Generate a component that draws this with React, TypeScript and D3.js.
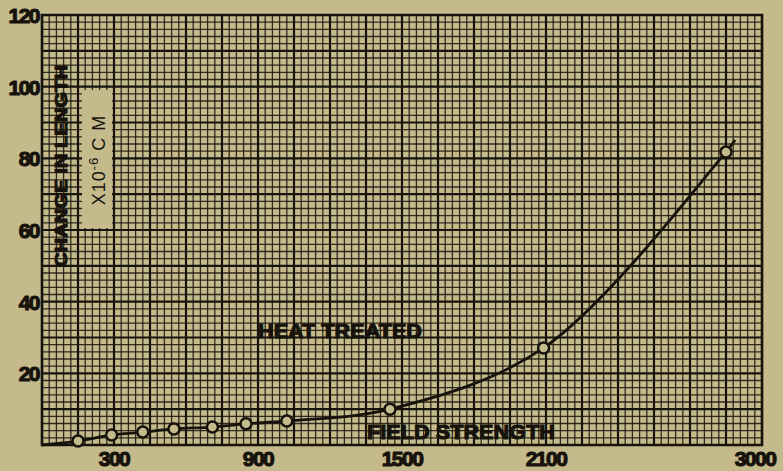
import React from 'react';
import * as d3 from 'd3';

// readings taken off the plate
const fieldStrength = [150, 290, 420, 550, 710, 850, 1020, 1450, 2090, 2850];
const changeInLength = [1.1, 2.8, 3.6, 4.5, 5.0, 5.9, 6.7, 10.0, 27.1, 81.8];
// the drawn curve starts at the origin and runs a little past the last reading
const curveStart = [0, 0];
const curveEnd = [2888, 85.1];

const xTicks = [300, 900, 1500, 2100, 3000];
const yTicks = [20, 40, 60, 80, 100, 120];

const W = 783, H = 471;
const left = 42, right = 762, top = 15, bottom = 445;
const paper = '#c4ba8b';
const ink = '#17130c';

export default function App() {
  const x = d3.scaleLinear().domain([0, 3000]).range([left, right]);
  const y = d3.scaleLinear().domain([0, 120]).range([bottom, top]);

  const minorX = d3.range(0, 3001, 30);
  const minorY = d3.range(0, 121, 2);

  const pts: [number, number][] = fieldStrength.map((f, i) => [f, changeInLength[i]]);
  const curvePts = [curveStart as [number, number], ...pts, curveEnd as [number, number]];
  const line = d3.line<[number, number]>()
    .x(d => x(d[0]))
    .y(d => y(d[1]))
    .curve(d3.curveCatmullRom.alpha(0.5));

  const bold = {
    fontFamily: '"Liberation Sans", Arial, sans-serif', fontWeight: 900, fill: ink,
    stroke: ink, strokeWidth: 1.1, strokeLinejoin: 'round' as const,
  };

  return (
    <svg width={W} height={H} style={{ position: 'absolute', left: 0, top: 0, background: paper }}>
      <rect x={0} y={0} width={W} height={H} fill={paper} />
      <g className="grid">
        {minorX.map(v => {
          const major = v % 150 === 0;
          return <line key={'x' + v} x1={x(v)} x2={x(v)} y1={top} y2={bottom}
            stroke={ink} strokeWidth={major ? 2.2 : 1.3} strokeOpacity={major ? 1 : 0.85} />;
        })}
        {minorY.map(v => {
          const major = v % 10 === 0;
          return <line key={'y' + v} x1={left} x2={right} y1={y(v)} y2={y(v)}
            stroke={ink} strokeWidth={major ? 2.2 : 1.3} strokeOpacity={major ? 1 : 0.85} />;
        })}
        <rect x={left} y={top} width={right - left} height={bottom - top} fill="none" stroke={ink} strokeWidth={2.5} />
      </g>

      {/* unit box */}
      <rect x={82} y={90} width={30} height={138} fill={paper} />
      <text transform="translate(105,160) rotate(-90)" textAnchor="middle"
        style={{ fontFamily: '"Liberation Sans", Arial, sans-serif', fontSize: 18, fill: ink, letterSpacing: 1 }}>
        X10<tspan dy={-7} fontSize={13}>-6</tspan><tspan dy={7}> C M</tspan>
      </text>

      <text transform="translate(67,166) rotate(-90)" textAnchor="middle" textLength={202}
        lengthAdjust="spacingAndGlyphs" style={{ ...bold, fontSize: 16 }}>CHANGE IN LENGTH</text>

      <path d={line(curvePts) || ''} fill="none" stroke={ink} strokeWidth={2.8} />
      {pts.map((p, i) => (
        <circle key={i} cx={x(p[0])} cy={y(p[1])} r={5.5} fill={paper} stroke={ink} strokeWidth={2.5} />
      ))}

      <text x={258} y={338} textLength={164} lengthAdjust="spacingAndGlyphs" style={{ ...bold, fontSize: 20 }}>HEAT TREATED</text>
      <text x={367} y={439} textLength={188} lengthAdjust="spacingAndGlyphs" style={{ ...bold, fontSize: 20 }}>FIELD STRENGTH</text>

      {yTicks.map(v => (
        <text key={v} x={39} y={y(v) + 8} textAnchor="end" letterSpacing={-1.5} style={{ ...bold, fontSize: 21 }}>{v}</text>
      ))}
      {xTicks.map(v => (
        <text key={v} x={v === 3000 ? x(v) - 7 : x(v)} y={466} textAnchor="middle" letterSpacing={-1.5}
          style={{ ...bold, fontSize: 21 }}>{v}</text>
      ))}
    </svg>
  );
}
